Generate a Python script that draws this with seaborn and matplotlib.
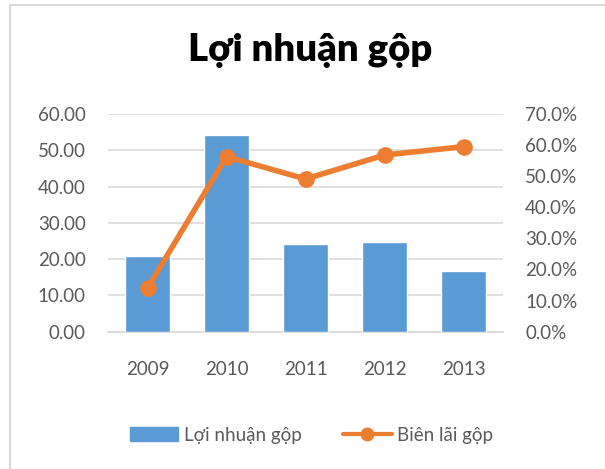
import numpy as np
import pandas as pd
import matplotlib
matplotlib.use('Agg')
import matplotlib.pyplot as plt
import seaborn as sns
from matplotlib.patches import Rectangle
from matplotlib.lines import Line2D
from matplotlib.ticker import FuncFormatter, MultipleLocator

years = ['2009', '2010', '2011', '2012', '2013']
gross_profit = [21.0, 54.3, 24.1, 24.6, 16.8]
gross_margin = [14.0, 56.3, 49.1, 56.8, 59.5]

bar_color = '#5b9bd5'
line_color = '#ed7d31'
text_color = '#595959'
grid_color = '#d9d9d9'

sns.set_style('white')
plt.rcParams['font.family'] = ['Lato', 'DejaVu Sans']

df = pd.DataFrame({'year': years, 'profit': gross_profit, 'margin': gross_margin})

fig = plt.figure(figsize=(6.05, 4.69), dpi=100)
W, H = 605, 469
ax = fig.add_axes([108 / W, 1 - 331.7 / H, 395 / W, (331.7 - 114) / H])

sns.barplot(data=df, x='year', y='profit', color=bar_color, width=0.57,
            saturation=1, ax=ax, zorder=3)
ax.set_ylim(0, 60)
ax.yaxis.set_major_locator(MultipleLocator(10))
ax.yaxis.set_major_formatter(FuncFormatter(lambda v, p: f'{v:.2f}'))
ax.grid(axis='y', color=grid_color, linewidth=1.2, zorder=0)
ax.set_axisbelow(True)
ax.set_xlabel('')
ax.set_ylabel('')
for s in ['top', 'right', 'left']:
    ax.spines[s].set_visible(False)
ax.spines['bottom'].set_color(grid_color)
ax.spines['bottom'].set_linewidth(1.2)
ax.tick_params(axis='both', length=0, labelsize=13.5, colors=text_color)
ax.tick_params(axis='y', pad=16)
ax.tick_params(axis='x', pad=21)

ax2 = ax.twinx()
ax2.plot(range(len(years)), df['margin'], color=line_color, linewidth=4,
         marker='o', markersize=11, zorder=5, solid_capstyle='round')
ax2.set_ylim(0, 70)
ax2.yaxis.set_major_locator(MultipleLocator(10))
ax2.yaxis.set_major_formatter(FuncFormatter(lambda v, p: f'{v:.1f}%'))
for s in ax2.spines.values():
    s.set_visible(False)
ax2.tick_params(axis='y', length=0, labelsize=13.5, colors=text_color, pad=16)
ax.set_xlim(-0.5, len(years) - 0.5)

fig.text(0.512, 1 - 50 / H, 'Lợi nhuận gộp', ha='center', va='center',
         fontsize=27.5, fontweight='heavy', color='black')

handles = [Rectangle((0, 0), 1, 1, color=bar_color),
           Line2D([0], [0], color=line_color, linewidth=3, marker='o', markersize=9)]
fig.legend(handles, ['Lợi nhuận gộp', 'Biên lãi gộp'], loc='center',
           bbox_to_anchor=(0.515, 1 - 435 / H), ncol=2, frameon=False,
           fontsize=13.5, labelcolor=text_color, handlelength=2.6,
           handletextpad=0.3, columnspacing=2.2)

fig.patches.append(Rectangle((10 / W, -0.1), 1.2, 1 - 5 / H + 0.1,
                             transform=fig.transFigure, fill=False,
                             edgecolor=grid_color, linewidth=1.5))

fig.savefig('out.png', dpi=100, facecolor='white')
